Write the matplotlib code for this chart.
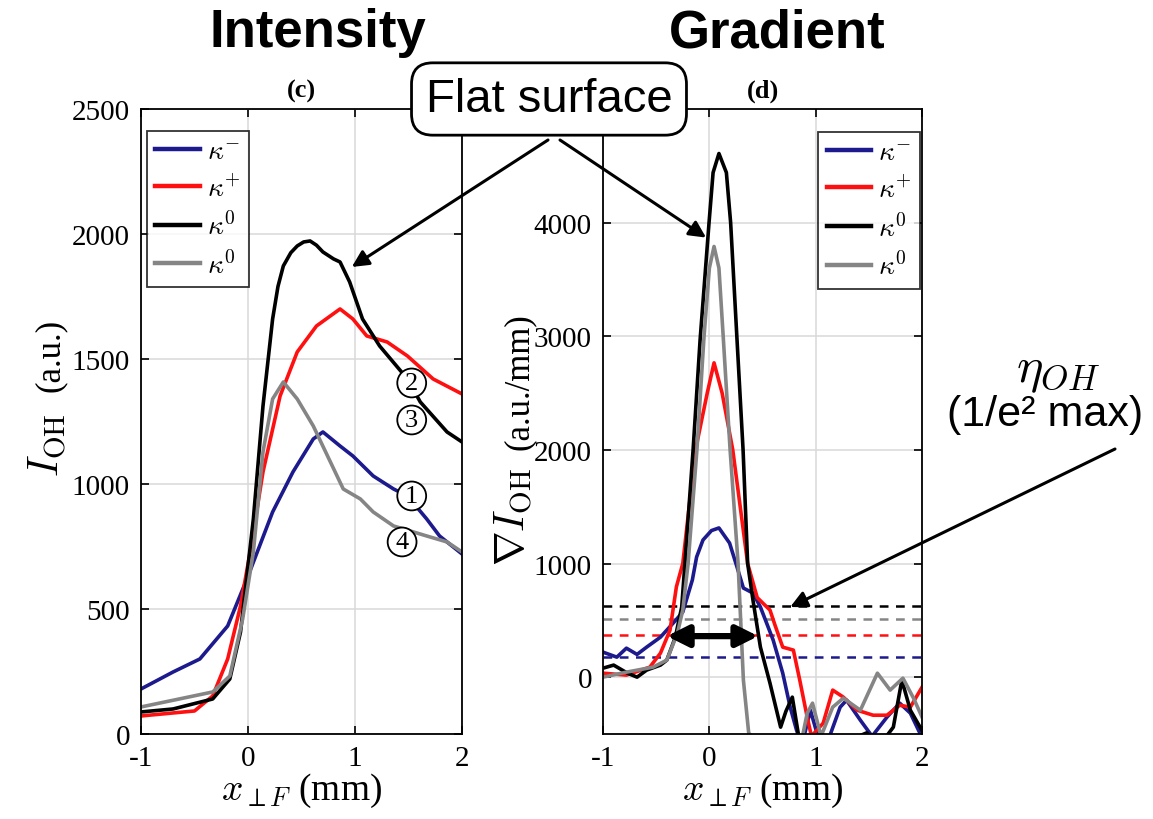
import numpy as np
import matplotlib
matplotlib.use("Agg")
import matplotlib.pyplot as plt

plt.rcParams['font.family'] = ['Liberation Serif', 'DejaVu Serif']
plt.rcParams['mathtext.fontset'] = 'cm'
plt.rcParams['axes.unicode_minus'] = False

# ---- data: intensity panel (c) ----
blue_c_x = [-1, -0.70, -0.45, -0.19, -0.01, 0.23, 0.42, 0.61, 0.70, 0.86, 0.98, 1.17, 1.36, 1.49, 1.67, 1.79, 2.0]
blue_c_y = [180, 248, 300, 432, 620, 888, 1048, 1180, 1208, 1152, 1112, 1032, 980, 952, 860, 792, 720]

red_c_x = [-1, -0.5, -0.33, -0.19, -0.07, 0.02, 0.14, 0.30, 0.46, 0.64, 0.86, 0.98, 1.11, 1.30, 1.49, 1.73, 2.0]
red_c_y = [72, 92, 152, 300, 512, 728, 1048, 1352, 1528, 1632, 1700, 1660, 1592, 1568, 1512, 1420, 1360]

black_c_x = [-1, -0.70, -0.33, -0.17, -0.07, 0.05, 0.14, 0.23, 0.28, 0.33, 0.40, 0.46, 0.52, 0.58, 0.64, 0.70,
             0.80, 0.86, 0.95, 1.07, 1.23, 1.49, 1.61, 1.86, 2.0]
black_c_y = [88, 100, 140, 220, 408, 860, 1312, 1660, 1790, 1872, 1925, 1952, 1968, 1972, 1955, 1928,
             1900, 1888, 1808, 1660, 1552, 1420, 1328, 1208, 1168]

gray_c_x = [-1, -0.33, -0.17, -0.05, 0.05, 0.14, 0.23, 0.33, 0.46, 0.61, 0.77, 0.89, 1.05, 1.17, 1.36, 1.67, 1.86, 2.0]
gray_c_y = [108, 168, 232, 460, 728, 1128, 1340, 1408, 1340, 1232, 1088, 980, 940, 888, 832, 792, 768, 728]

# ---- data: gradient panel (d) ----
blue_d_x = [-1, -0.87, -0.78, -0.68, -0.59, -0.46, -0.34, -0.25, -0.16, -0.12, -0.06, 0.02, 0.09, 0.19, 0.26,
            0.32, 0.41, 0.48, 0.60, 0.69, 0.76, 0.82, 0.87, 0.95, 1.02, 1.1, 1.23, 1.29, 1.42, 1.53, 1.67,
            1.79, 1.89, 1.98]
blue_d_y = [220, 176, 255, 200, 264, 352, 476, 573, 855, 1057, 1207, 1290, 1313, 1180, 969,
            784, 740, 617, 326, 35, -264, -467, -600, -291, -520, -600, -264, -203, -379, -520, -352,
            -229, -317, -493]

red_d_x = [-1, -0.78, -0.56, -0.46, -0.37, -0.31, -0.25, -0.13, -0.02, 0.044, 0.12, 0.22, 0.36, 0.45, 0.57,
           0.62, 0.69, 0.79, 0.85, 0.92, 0.96, 1.07, 1.16, 1.26, 1.39, 1.54, 1.67, 1.79, 1.89, 2.0]
red_d_y = [35, 18, 88, 211, 414, 795, 1000, 2000, 2500, 2766, 2500, 2000, 1000, 700, 590,
           450, 264, 238, -26, -352, -520, -405, -114, -176, -291, -335, -335, -247, -264, -88]

black_d_x = [-1, -0.9, -0.77, -0.68, -0.59, -0.46, -0.40, -0.32, -0.26, -0.23, -0.153, -0.087, -0.003, 0.035,
             0.09, 0.16, 0.20, 0.26, 0.317, 0.36, 0.41, 0.48, 0.57, 0.67, 0.72, 0.78, 0.84, 0.95, 1.2, 1.48,
             1.6, 1.73, 1.81, 1.89, 2.0]
black_d_y = [79, 106, 35, 0, 62, 106, 150, 352, 617, 1000, 2000, 2970, 4000, 4440,
             4608, 4440, 4000, 2970, 2000, 1000, 678, 264, -53, -440, -300, -176, -520, -600, -600, -490,
             -600, -440, -26, -291, -470]

gray_d_x = [-1, -0.78, -0.53, -0.40, -0.30, -0.25, -0.20, -0.117, -0.05, 0.0, 0.044, 0.09, 0.13, 0.195, 0.27,
            0.32, 0.37, 0.5, 0.8, 0.88, 0.92, 0.97, 1.05, 1.16, 1.26, 1.42, 1.58, 1.70, 1.82, 1.92, 2.0]
gray_d_y = [0, 44, 88, 150, 388, 590, 1000, 2000, 3000, 3600, 3790, 3600, 3000, 2000, 1000,
            -26, -493, -600, -600, -500, -317, -229, -520, -264, -185, -291, 35, -114, -9, -185, -352]

# 1/e^2 of max thresholds
thresholds = [178, 374, 622, 511]  # blue, red, black, gray

labels = [r'$\kappa^{-}$', r'$\kappa^{+}$', r'$\kappa^{0}$', r'$\kappa^{0}$']
colors = ['#1c1a8c', '#ff1010', '#000000', '#858585']

circle_nums = ['2', '3', '1', '4']
circle_x = [1.53, 1.53, 1.53, 1.44]
circle_y = [1404, 1256, 952, 768]

W, H = 1153, 820
fig = plt.figure(figsize=(W / 100, H / 100), dpi=100)
axc = fig.add_axes([0.1223, 0.1037, 0.2784, 0.7622])
axd = fig.add_axes([0.523, 0.1037, 0.2767, 0.7622])

lw = 2.6
series_c = [(blue_c_x, blue_c_y), (red_c_x, red_c_y), (black_c_x, black_c_y), (gray_c_x, gray_c_y)]
series_d = [(blue_d_x, blue_d_y), (red_d_x, red_d_y), (black_d_x, black_d_y), (gray_d_x, gray_d_y)]

for (x, y), c, lab in zip(series_c, colors, labels):
    axc.plot(x, y, color=c, lw=lw, label=lab, solid_joinstyle='round')
for (x, y), c, lab in zip(series_d, colors, labels):
    axd.plot(x, y, color=c, lw=lw, label=lab, solid_joinstyle='round')
for t, c in zip(thresholds, colors):
    axd.axhline(t, color=c, lw=1.8, ls=(0, (3.5, 3)), zorder=1)

for ax in (axc, axd):
    ax.set_xlim(-1, 2)
    ax.set_xticks([-1, 0, 1, 2])
    ax.grid(True, color='#d8d8d8', lw=1.1)
    ax.tick_params(direction='in', top=True, right=True, labelsize=21, length=6, width=1.2, pad=8)
    for s in ax.spines.values():
        s.set_linewidth(1.3)
    ax.set_xlabel(r'$x_{\perp F}$ (mm)', fontsize=27, labelpad=0)
    ax.set_axisbelow(True)

axc.set_ylim(0, 2500)
axc.set_yticks([0, 500, 1000, 1500, 2000, 2500])
axc.set_title('(c)', fontsize=19, fontweight='bold', pad=9)

axd.set_ylim(-500, 5000)
axd.set_yticks([0, 1000, 2000, 3000, 4000])
axd.set_title('(d)', fontsize=19, fontweight='bold', pad=9)

# y labels (symbol part drawn larger than the unit part)
fig.text(48 / W, 1 - 445 / H, r'$I_{\mathrm{OH}}$', fontsize=30, rotation=90, ha='center', va='center')
fig.text(50 / W, 1 - 355 / H, '(a.u.)', fontsize=25, rotation=90, ha='center', va='center')
fig.text(514 / W, 1 - 517 / H, r'$\nabla I_{\mathrm{OH}}$', fontsize=30, rotation=90, ha='center', va='center')
fig.text(519 / W, 1 - 382 / H, '(a.u./mm)', fontsize=25, rotation=90, ha='center', va='center')

leg_kw = dict(fontsize=20, frameon=True, fancybox=False, edgecolor='black', handlelength=1.6,
              handletextpad=0.25, labelspacing=0.36, borderpad=0.3, borderaxespad=0)
lc = axc.legend(loc='upper left', bbox_to_anchor=(0.019, 0.965), **leg_kw)
ld = axd.legend(loc='upper right', bbox_to_anchor=(0.994, 0.963), **leg_kw)
for lg in (lc, ld):
    lg.get_frame().set_linewidth(1.3)
    for h in lg.get_lines():
        h.set_linewidth(3.2)

for n, x, y in zip(circle_nums, circle_x, circle_y):
    axc.text(x, y, n, ha='center', va='center', fontsize=19, zorder=5,
             bbox=dict(boxstyle='circle,pad=0.13', fc='white', ec='black', lw=1.3))

# headers
fig.text(318 / W, 1 - 33 / H, 'Intensity', fontsize=38, fontweight='bold',
         family='Liberation Sans', ha='center', va='center')
fig.text(777 / W, 1 - 33 / H, 'Gradient', fontsize=38, fontweight='bold',
         family='Liberation Sans', ha='center', va='center')

# flat surface box and arrows
fig.text(549 / W, 1 - 100 / H, 'Flat surface', fontsize=34, family='Liberation Sans',
         ha='center', va='center', zorder=10,
         bbox=dict(boxstyle='round,pad=0.3,rounding_size=0.45', fc='white', ec='black', lw=2))
arr = dict(arrowstyle='-|>', color='black', lw=2.2, mutation_scale=25, shrinkA=0, shrinkB=0)
axc.annotate('', xy=(0.97, 1868), xycoords='data', xytext=(548 / W, 1 - 141 / H),
             textcoords='figure fraction', arrowprops=arr, annotation_clip=False)
axd.annotate('', xy=(-0.031, 3868), xycoords='data', xytext=(560 / W, 1 - 141 / H),
             textcoords='figure fraction', arrowprops=arr, annotation_clip=False)

# eta annotation
fig.text(1058 / W, 1 - 372 / H, r'$\eta_{OH}$', fontsize=36, ha='center', va='center')
fig.text(1045 / W, 1 - 415 / H, '(1/e² max)', fontsize=31, family='Liberation Sans',
         ha='center', va='center')
axd.annotate('', xy=(0.76, 617), xycoords='data', xytext=(1115 / W, 1 - 450 / H),
             textcoords='figure fraction', arrowprops=arr, annotation_clip=False)

# width double arrow
axd.annotate('', xy=(-0.40, 361), xytext=(0.46, 361), xycoords='data',
             arrowprops=dict(arrowstyle='<|-|>', color='black', lw=4.5, mutation_scale=32,
                             shrinkA=0, shrinkB=0), zorder=6)

fig.savefig('out.png', dpi=100)
